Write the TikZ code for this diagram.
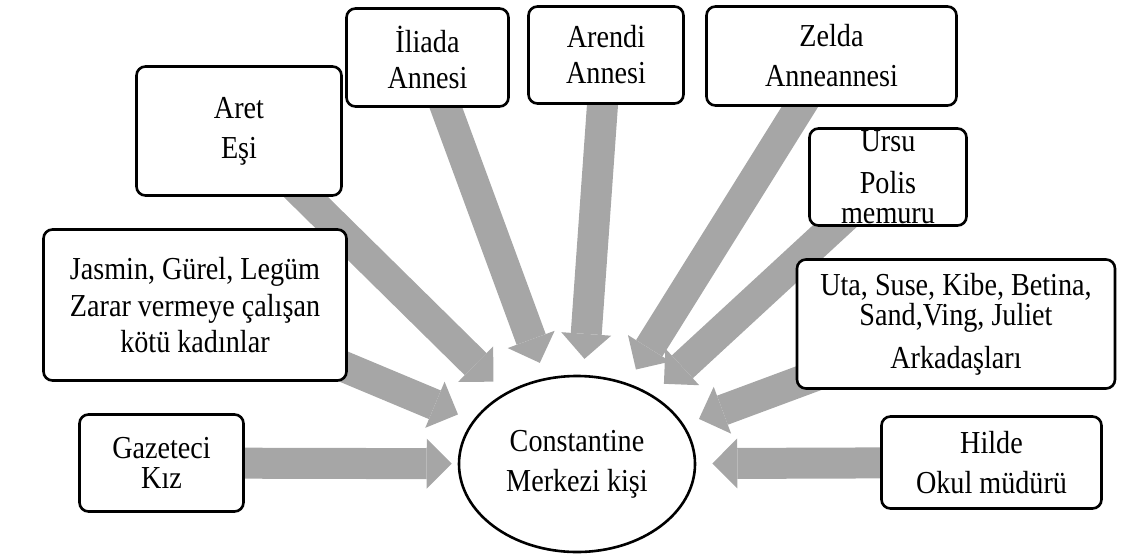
\documentclass[tikz,border=0pt]{standalone}
\usepackage{fontspec}
\setmainfont{Liberation Serif}[FakeStretch=0.88]
\usepackage{tikz}
\usetikzlibrary{shapes.geometric, arrows.meta, backgrounds}
\definecolor{arrowgray}{RGB}{166,166,166}

\begin{document}
\begin{tikzpicture}[x=1pt, y=-1pt,
    box/.style={draw, line width=2.6pt, rounded corners=9pt, fill=white, align=center, inner sep=0pt, font=\fontsize{32}{34}\selectfont},
    hubnode/.style={draw, ellipse, line width=2.6pt, fill=white, align=center, inner sep=0pt, minimum width=236pt, minimum height=176pt, font=\fontsize{32}{34}\selectfont},
    bigarrow/.style={draw=arrowgray, line width=31pt, -{Triangle[length=25pt, width=50pt, line width=0pt]}, shorten <=-25pt, shorten >=16pt}]

                    \useasboundingbox (0,0) rectangle (1121,557);

                    \node[hubnode] (hub) at (577,464) {Constantine\\[6pt]Merkezi kişi};

                    \node[box, minimum width=205pt, minimum height=129pt] (aret) at (239,131) {Aret\\[6pt]Eşi};
                    \node[box, minimum width=162pt, minimum height=98pt] (iliada) at (427.5,57.5) {İliada\\[2pt]Annesi};
                    \node[box, minimum width=155pt, minimum height=97pt] (arendi) at (606,55) {Arendi\\[2pt]Annesi};
                    \node[box, minimum width=250pt, minimum height=99pt] (zelda) at (831.5,56) {Zelda\\[6pt]Anneannesi};
                    \node[box, minimum width=157pt, minimum height=97pt] (ursu) at (888,177) {Ursu\\[8pt]Polis\\[-4pt]memuru};
                    \node[box, minimum width=318pt, minimum height=129pt] (uta) at (956,324) {Uta, Suse, Kibe, Betina,\\[-4pt]Sand,Ving, Juliet\\[9pt]Arkadaşları};
                    \node[box, minimum width=303pt, minimum height=151pt] (jasmin) at (195,305) {Jasmin, Gürel, Legüm\\[3pt]Zarar vermeye çalışan\\[2pt]kötü kadınlar};
                    \node[box, minimum width=164pt, minimum height=97pt] (gazeteci) at (161.5,463) {Gazeteci\\[-4pt]Kız};
                    \node[box, minimum width=220pt, minimum height=92pt] (hilde) at (991.5,462.5) {Hilde\\[6pt]Okul müdürü};

                    % gray block arrows towards the centre
                    \begin{scope}[on background layer]
                        \foreach \who in {aret, iliada, arendi, zelda, ursu, uta, jasmin, hilde} {
                            \draw[bigarrow] (\who) -- (hub);
                        }
                        \draw[bigarrow, shorten >=6pt] (gazeteci) -- (hub);
                    \end{scope}
                \end{tikzpicture}
\end{document}
